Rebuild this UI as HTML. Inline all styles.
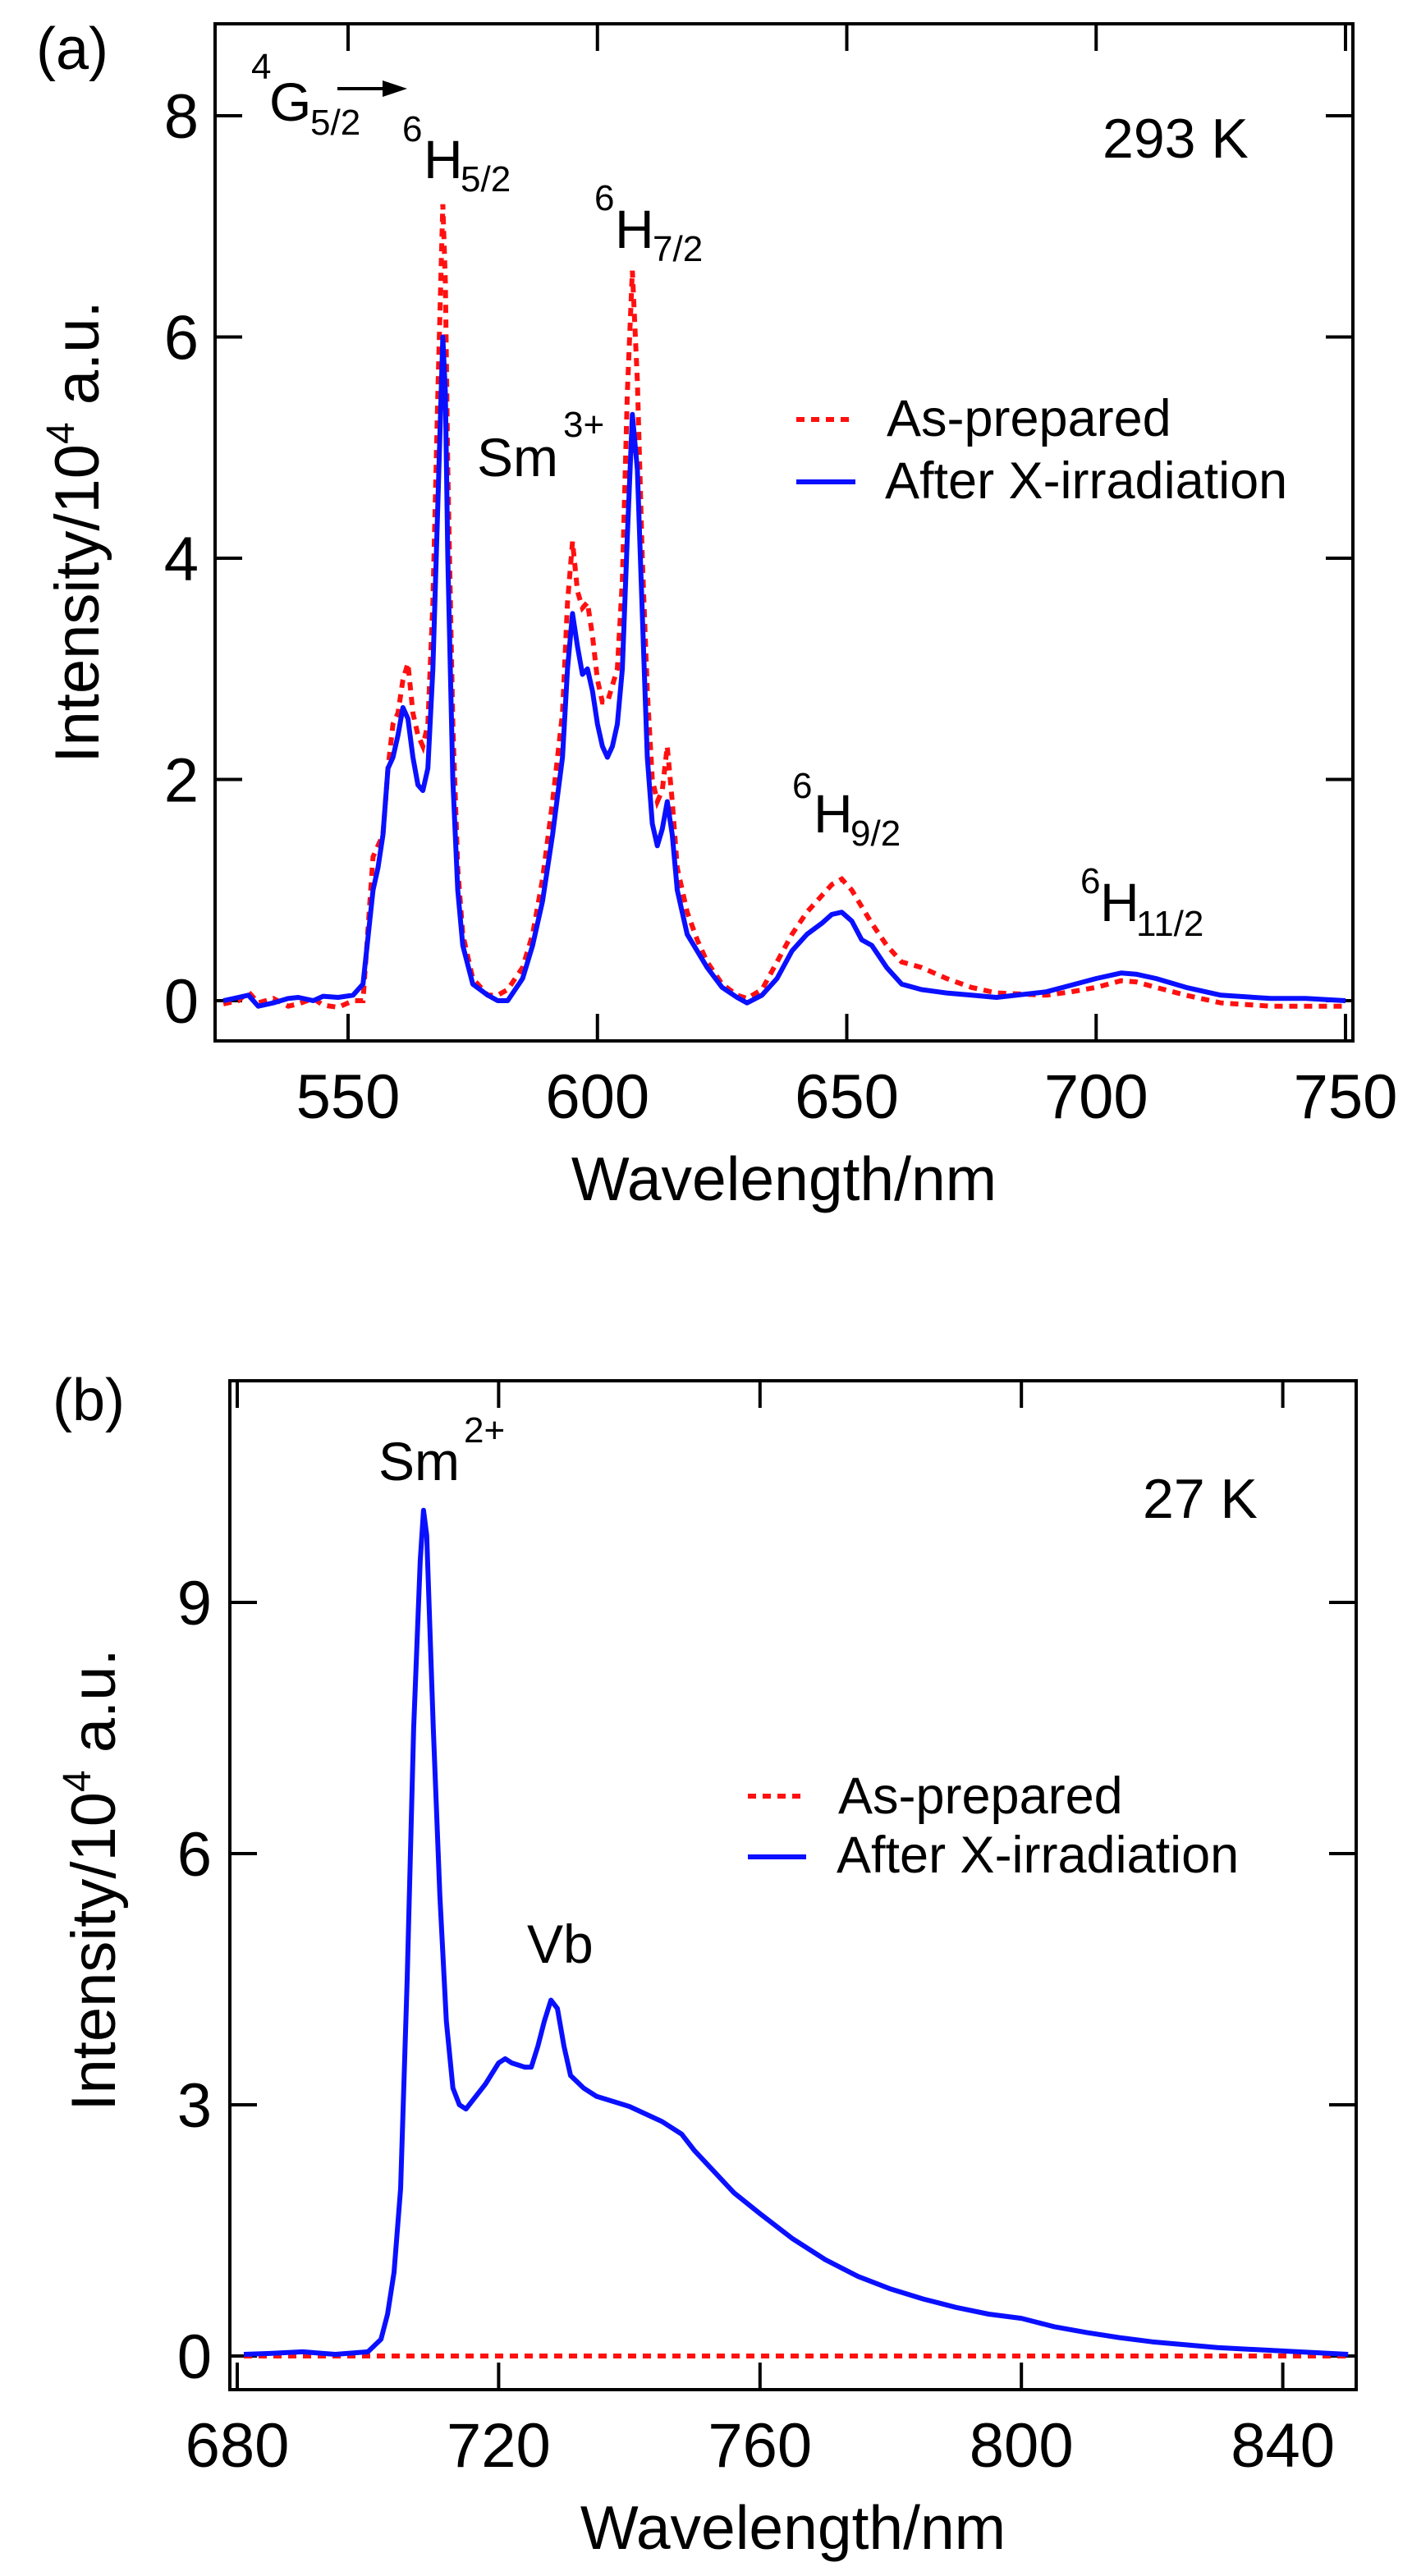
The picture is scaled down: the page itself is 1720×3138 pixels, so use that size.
<!DOCTYPE html>
<html><head><meta charset="utf-8"><style>
html,body{margin:0;padding:0;background:#fff;}
svg{display:block;font-family:"Liberation Sans",Arial,sans-serif;}
</style></head><body>
<svg id="fig" width="1720" height="3138" viewBox="0 0 1720 3138" xmlns="http://www.w3.org/2000/svg">
<rect width="1720" height="3138" fill="#fff"/>
<g id="pa"></g>
<g id="pb"></g>
</svg>
<script>
// ---- Panel (a) data ----
const aWave = [525,528,530,532,535,538,540,543,545,548,551,553,555,556,557,558,559,560,561,562,563,564,565,566,567,568,569,569.5,570,571,572,573,575,578,580,582,585,587,589,591,593,594,595,596,597,598,599,600,601,602,603,604,605,606,607,608,609,610,611,612,613,614,615,616,618,620,622,625,628,630,633,636,639,642,645,647,649,651,653,655,658,661,665,670,675,680,690,695,700,705,708,712,718,725,735,742,750];
const aBlue = [0,0.03,0.05,-0.05,-0.02,0.02,0.03,0.0,0.04,0.03,0.05,0.15,1.0,1.2,1.5,2.1,2.2,2.4,2.65,2.55,2.2,1.95,1.9,2.1,3.0,4.5,6.0,5.5,4.0,2.0,1.0,0.5,0.15,0.05,0.0,0.0,0.2,0.5,0.9,1.5,2.2,3.0,3.5,3.2,2.95,3.0,2.8,2.5,2.3,2.2,2.3,2.5,3.0,4.2,5.3,4.8,3.5,2.2,1.6,1.4,1.55,1.8,1.5,1.0,0.6,0.45,0.3,0.12,0.03,-0.02,0.05,0.2,0.45,0.6,0.7,0.78,0.8,0.72,0.55,0.5,0.3,0.15,0.1,0.07,0.05,0.03,0.08,0.14,0.2,0.25,0.24,0.2,0.12,0.05,0.02,0.02,0.0];
const aRed  = [-0.03,0.0,0.08,-0.02,0.02,-0.05,-0.03,0.02,-0.04,-0.06,0.0,0.0,1.3,1.4,1.5,2.1,2.5,2.6,2.9,3.05,2.6,2.4,2.3,2.5,3.6,5.5,7.2,6.5,4.8,2.5,1.2,0.6,0.2,0.05,0.05,0.1,0.3,0.6,1.1,1.8,2.6,3.6,4.15,3.7,3.55,3.6,3.3,2.9,2.7,2.7,2.85,3.0,3.8,5.5,6.6,5.6,4.0,2.8,2.0,1.8,1.9,2.3,1.8,1.2,0.8,0.55,0.35,0.15,0.05,0.02,0.1,0.35,0.6,0.8,0.95,1.05,1.1,1.0,0.85,0.7,0.5,0.35,0.3,0.2,0.12,0.07,0.05,0.08,0.12,0.18,0.17,0.12,0.05,-0.02,-0.05,-0.05,-0.05];
const aXTicks = [550,600,650,700,750];
const aYTicks = [0,2,4,6,8];
// ---- Panel (b) data ----
const bWave = [681,685,690,695,700,702,703,704,705,706,707,708,708.5,709,710,711,712,713,714,715,716,718,720,721,722,724,725,726,727,728,729,730,731,733,735,740,745,748,750,753,756,760,765,770,775,780,785,790,795,800,805,810,815,820,830,840,850];
const bBlue = [0.02,0.03,0.05,0.02,0.05,0.2,0.5,1.0,2.0,4.5,7.5,9.5,10.1,9.8,7.5,5.5,4.0,3.2,3.0,2.95,3.05,3.25,3.5,3.55,3.5,3.45,3.45,3.7,4.0,4.25,4.15,3.7,3.35,3.2,3.1,2.98,2.8,2.65,2.45,2.2,1.95,1.7,1.4,1.15,0.95,0.8,0.68,0.58,0.5,0.45,0.35,0.28,0.22,0.17,0.1,0.06,0.02];
const bRedWave = [681,700,720,760,800,850];
const bRed = [0,0,0,0,0,0];
const bXTicks = [680,720,760,800,840];
const bYTicks = [0,3,6,9];

const NS="http://www.w3.org/2000/svg";
function mk(parent,tag,attrs){const e=document.createElementNS(NS,tag);for(const k in attrs)e.setAttribute(k,attrs[k]);parent.appendChild(e);return e;}

const xa = w => 424 + (w-550)*6.075;
const ya = v => 1219 - v*134.75;
const xb = w => 289 + (w-680)*7.96;
const yb = v => 2870 - v*102;

function path(xs,ys,fx,fy){return xs.map((w,i)=>(i?'L':'M')+fx(w).toFixed(1)+' '+fy(ys[i]).toFixed(1)).join(' ');}

function drawPanel(g,cfg){
  const f=mk(g,'rect',{x:cfg.L,y:cfg.T,width:cfg.R-cfg.L,height:cfg.B-cfg.T,fill:'none',stroke:'#000','stroke-width':4});
  
  
  cfg.xt.forEach(t=>{
    const x=cfg.fx(t);
    const a=mk(g,'line',{x1:x,y1:cfg.B,x2:x,y2:cfg.B-33,stroke:'#000','stroke-width':4});
    
    
    mk(g,'line',{x1:x,y1:cfg.T,x2:x,y2:cfg.T+33,stroke:'#000','stroke-width':4});
    const tx=mk(g,'text',{x:x,y:cfg.B+94,'font-size':76,'text-anchor':'middle'});
    tx.textContent=t;
    
    
  });
  cfg.yt.forEach(t=>{
    const y=cfg.fy(t);
    const a=mk(g,'line',{x1:cfg.L,y1:y,x2:cfg.L+33,y2:y,stroke:'#000','stroke-width':4});
    
    
    mk(g,'line',{x1:cfg.R,y1:y,x2:cfg.R-33,y2:y,stroke:'#000','stroke-width':4});
    const tx=mk(g,'text',{x:cfg.ylx,y:y+27,'font-size':76,'text-anchor':'end'});
    tx.textContent=t;
    
    
  });
  const xt=mk(g,'text',{x:(cfg.L+cfg.R)/2,y:cfg.B+194,'font-size':75,'text-anchor':'middle'});
  xt.textContent='Wavelength/nm';
  
  
  const yt=mk(g,'text',{transform:`translate(${cfg.ytx},${cfg.yty}) rotate(-90)`,'font-size':76,'text-anchor':'middle'});
  yt.innerHTML='Intensity/10<tspan dy="-30" font-size="48">4</tspan><tspan dy="30"> a.u.</tspan>';
  
  
}

function txt(g,x,y,s,str,name,anchor){const t=mk(g,'text',{x:x,y:y,'font-size':s,'text-anchor':anchor||'start'});t.textContent=str;return t;}

// ---- Panel a ----
const pa=document.getElementById('pa');
const clipA=mk(pa,'clipPath',{id:'ca'});mk(clipA,'rect',{x:264,y:31,width:1382,height:1235});
drawPanel(pa,{L:262,R:1648,T:29,B:1268,fx:xa,fy:ya,xt:aXTicks,yt:aYTicks,ylx:242,ytx:120,yty:648});
const ra=mk(pa,'path',{d:path(aWave,aRed,xa,ya),fill:'none',stroke:'#ff1010','stroke-width':6,'stroke-dasharray':'10 8','clip-path':'url(#ca)'});


const ba=mk(pa,'path',{d:path(aWave,aBlue,xa,ya),fill:'none',stroke:'#0a10ff','stroke-width':6,'stroke-linejoin':'round','clip-path':'url(#ca)'});


txt(pa,44,84,72,'(a)','panel-label-a');
txt(pa,306,96,44,'4','label-4g-sup');
txt(pa,328,147,66,'G','label-4g');
txt(pa,378,164,44,'5/2','label-4g-sub');
const ar=mk(pa,'line',{x1:411,y1:108,x2:470,y2:108,stroke:'#000','stroke-width':4});

mk(pa,'polygon',{points:'466,98 496,108 466,118',fill:'#000'});
txt(pa,490,172,44,'6','label-6h52-sup');
txt(pa,516,217,66,'H','label-6h52');
txt(pa,561,233,44,'5/2','label-6h52-sub');
txt(pa,724,256,44,'6','label-6h72-sup');
txt(pa,749,302,66,'H','label-6h72');
txt(pa,795,318,44,'7/2','label-6h72-sub');
txt(pa,581,580,66,'Sm','label-sm3');
txt(pa,686,532,44,'3+','label-sm3-sup');
txt(pa,965,972,44,'6','label-6h92-sup');
txt(pa,991,1014,66,'H','label-6h92');
txt(pa,1036,1030,44,'9/2','label-6h92-sub');
txt(pa,1316,1088,44,'6','label-6h112-sup');
txt(pa,1340,1122,66,'H','label-6h112');
txt(pa,1384,1140,44,'11/2','label-6h112-sub');
txt(pa,1343,192,68,'293 K','temperature-a');
const la1=mk(pa,'line',{x1:970,y1:511,x2:1042,y2:511,stroke:'#ff1010','stroke-width':6,'stroke-dasharray':'10 8'});

txt(pa,1080,531,63,'As-prepared','legend-as-prepared');
const la2=mk(pa,'line',{x1:970,y1:587,x2:1042,y2:587,stroke:'#0a10ff','stroke-width':6});

txt(pa,1078,607,63,'After X-irradiation','legend-after');

// ---- Panel b ----
const pb=document.getElementById('pb');
const clipB=mk(pb,'clipPath',{id:'cb'});mk(clipB,'rect',{x:282,y:1684,width:1368,height:1225});
drawPanel(pb,{L:280,R:1652,T:1682,B:2911,fx:xb,fy:yb,xt:bXTicks,yt:bYTicks,ylx:258,ytx:140,yty:2290});
const rb=mk(pb,'path',{d:path(bRedWave,bRed,xb,yb),fill:'none',stroke:'#ff1010','stroke-width':6,'stroke-dasharray':'10 8','clip-path':'url(#cb)'});


const bb=mk(pb,'path',{d:path(bWave,bBlue,xb,yb),fill:'none',stroke:'#0a10ff','stroke-width':6,'stroke-linejoin':'round','clip-path':'url(#cb)'});


txt(pb,64,1730,72,'(b)','panel-label-b');
txt(pb,461,1803,66,'Sm','label-sm2');
txt(pb,565,1757,44,'2+','label-sm2-sup');
txt(pb,642,2391,66,'Vb','label-vb');
txt(pb,1392,1849,68,'27 K','temperature-b');
const lb1=mk(pb,'line',{x1:911,y1:2188,x2:982,y2:2188,stroke:'#ff1010','stroke-width':6,'stroke-dasharray':'10 8'});

txt(pb,1021,2209,63,'As-prepared','legend-as-prepared');
const lb2=mk(pb,'line',{x1:911,y1:2262,x2:982,y2:2262,stroke:'#0a10ff','stroke-width':6});

txt(pb,1019,2281,63,'After X-irradiation','legend-after');
</script>
</body></html>
